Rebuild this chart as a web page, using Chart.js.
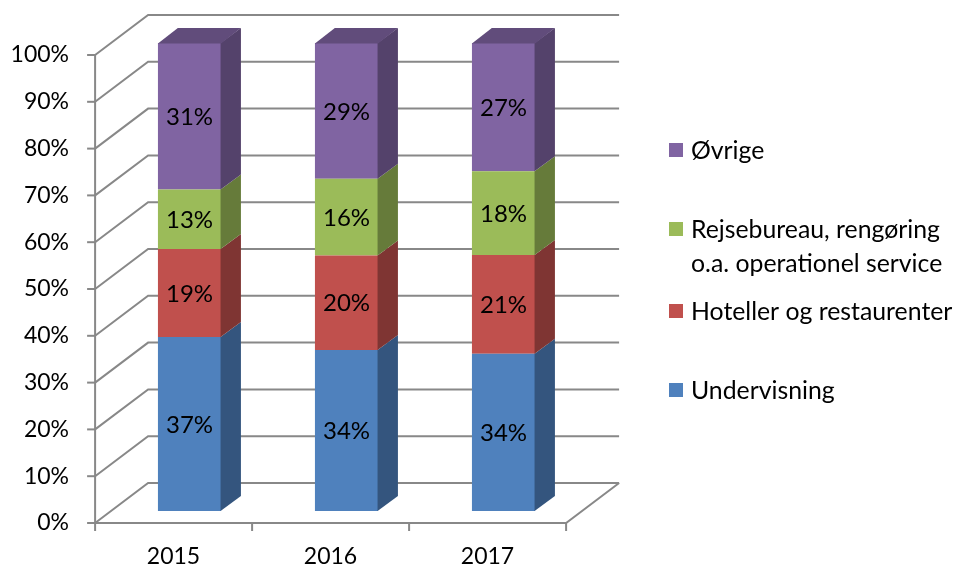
<!DOCTYPE html>
<html>
<head>
<meta charset="utf-8">
<script src="https://cdn.jsdelivr.net/npm/chart.js@4.4.1/dist/chart.umd.min.js"></script>
<style>
  html, body { margin: 0; padding: 0; background: #fff; }
</style>
</head>
<body>
<canvas id="chart" width="955" height="567"></canvas>
<script>
// Data (percent of total per year)
const years = ['2015', '2016', '2017'];
const undervisning = [37.2, 34.4, 33.6];
const hoteller = [18.8, 20.2, 21.1];
const rejsebureau = [12.7, 16.4, 17.9];
const ovrige = [31.3, 29.0, 27.4];
const seriesNames = ['Undervisning', 'Hoteller og restaurenter', ['Rejsebureau, rengøring', 'o.a. operationel service'], 'Øvrige'];
const yTickValues = [0, 10, 20, 30, 40, 50, 60, 70, 80, 90, 100];

const FAMILY = 'Lato, "Open Sans", sans-serif';
const FONT = '24px ' + FAMILY;
const LEGEND_FONT = '24.8px ' + FAMILY;

// Face colours: front, side, top
const palette = [
    { front: '#4F81BD', side: '#34557E', top: '#3C6290' },
    { front: '#C0504D', side: '#7F3533', top: '#923D3A' },
    { front: '#9BBB59', side: '#667B3A', top: '#768E43' },
    { front: '#8064A2', side: '#54426B', top: '#614C7B' }
];

// 3D box geometry: floor depth and where the bars sit inside it
const depth = { dx: 53, dy: 40, barFront: 0.3, barBack: 0.675 };
const gridColor = '#888888';

// Draws the walls, floor, grid lines and axis ticks behind the bars
const wallsPlugin = {
    id: 'walls',
    beforeDatasetsDraw(chart) {
        const { ctx, chartArea } = chart;
        const yScale = chart.scales.y;
        const ox = depth.dx * depth.barFront;
        const oy = depth.dy * depth.barFront;
        const x0 = chartArea.left - ox;
        const x1 = chartArea.right - ox;
        const yFront = v => yScale.getPixelForValue(v) + oy;

        ctx.save();
        ctx.strokeStyle = gridColor;
        ctx.lineWidth = 2;
        ctx.lineCap = 'butt';

        yTickValues.forEach(v => {
            const yf = yFront(v);
            ctx.beginPath();
            ctx.moveTo(x0, yf);
            ctx.lineTo(x0 + depth.dx, yf - depth.dy);
            ctx.lineTo(x1 + depth.dx, yf - depth.dy);
            ctx.stroke();
            // tick mark on the front axis
            ctx.beginPath();
            ctx.moveTo(x0 - 8, yf);
            ctx.lineTo(x0, yf);
            ctx.stroke();
        });

        // front vertical axis
        ctx.beginPath();
        ctx.moveTo(x0, yFront(0));
        ctx.lineTo(x0, yFront(100));
        ctx.stroke();

        // floor front and right edges
        const yf0 = yFront(0);
        ctx.beginPath();
        ctx.moveTo(x0, yf0);
        ctx.lineTo(x1, yf0);
        ctx.lineTo(x1 + depth.dx, yf0 - depth.dy);
        ctx.stroke();

        // category ticks
        const n = years.length;
        for (let i = 0; i <= n; i++) {
            const x = x0 + i * (x1 - x0) / n;
            ctx.beginPath();
            ctx.moveTo(x, yf0);
            ctx.lineTo(x, yf0 + 8);
            ctx.stroke();
        }
        ctx.restore();
    },
    afterDatasetsDraw(chart) {
        const { ctx } = chart;
        const sx = depth.dx * (depth.barBack - depth.barFront);
        const sy = depth.dy * (depth.barBack - depth.barFront);
        const last = chart.data.datasets.length - 1;

        ctx.save();
        chart.data.datasets.forEach((ds, di) => {
            const meta = chart.getDatasetMeta(di);
            const col = palette[di];
            meta.data.forEach(bar => {
                const { x, y, base, width } = bar.getProps(['x', 'y', 'base', 'width'], true);
                const left = x - width / 2;
                const right = x + width / 2;
                // side face
                ctx.fillStyle = col.side;
                ctx.beginPath();
                ctx.moveTo(right - 0.5, y);
                ctx.lineTo(right + sx, y - sy);
                ctx.lineTo(right + sx, base - sy);
                ctx.lineTo(right - 0.5, base);
                ctx.closePath();
                ctx.fill();
                // top face on the last segment
                if (di === last) {
                    ctx.fillStyle = col.top;
                    ctx.beginPath();
                    ctx.moveTo(left, y + 0.5);
                    ctx.lineTo(left + sx, y - sy);
                    ctx.lineTo(right + sx, y - sy);
                    ctx.lineTo(right, y + 0.5);
                    ctx.closePath();
                    ctx.fill();
                }
            });
        });

        // value labels on the front faces
        ctx.fillStyle = '#000';
        ctx.font = FONT;
        ctx.textAlign = 'center';
        ctx.textBaseline = 'middle';
        chart.data.datasets.forEach((ds, di) => {
            const meta = chart.getDatasetMeta(di);
            meta.data.forEach((bar, i) => {
                const { x, y, base } = bar.getProps(['x', 'y', 'base'], true);
                ctx.fillText(Math.round(ds.data[i]) + '%', x, (y + base) / 2 + 1);
            });
        });
        ctx.restore();
    }
};

// Legend drawn by hand so it can keep Excel's reversed order and the wrapped label
const legendPlugin = {
    id: 'sideLegend',
    afterDraw(chart, args, opts) {
        const { ctx } = chart;
        ctx.save();
        ctx.font = LEGEND_FONT;
        ctx.textAlign = 'left';
        ctx.textBaseline = 'middle';
        const order = chart.data.datasets.map((d, i) => i).reverse();
        order.forEach((di, k) => {
            const ds = chart.data.datasets[di];
            const yc = opts.rows[k];
            ctx.fillStyle = ds.backgroundColor;
            ctx.fillRect(opts.x, yc - 7, 14, 14);
            ctx.fillStyle = '#000';
            const lines = Array.isArray(ds.label) ? ds.label : [ds.label];
            lines.forEach((line, li) => {
                ctx.fillText(line, opts.x + 22, yc + 1 + li * 34);
            });
        });
        ctx.restore();
    }
};

const seriesData = [undervisning, hoteller, rejsebureau, ovrige];

new Chart(document.getElementById('chart'), {
    type: 'bar',
    data: {
        labels: years,
        datasets: seriesData.map((values, i) => ({
            label: seriesNames[i],
            data: values,
            backgroundColor: palette[i].front,
            borderWidth: 0,
            categoryPercentage: 1,
            barPercentage: 0.402
        }))
    },
    plugins: [wallsPlugin, legendPlugin],
    options: {
        responsive: false,
        animation: false,
        layout: { padding: { top: 43, right: 373, bottom: 0, left: 0 } },
        scales: {
            x: {
                stacked: true,
                grid: { display: false, drawTicks: false },
                border: { display: false },
                ticks: {
                    color: '#000',
                    font: { family: FAMILY, size: 23 },
                    labelOffset: -16,
                    padding: 32
                },
                afterFit(scale) {
                    scale.height = 56;
                    scale.paddingLeft = 0;
                    scale.paddingRight = 0;
                }
            },
            y: {
                stacked: true,
                min: 0,
                max: 100,
                grid: { display: false, drawTicks: false },
                border: { display: false },
                ticks: {
                    stepSize: 10,
                    color: '#000',
                    font: { family: FAMILY, size: 23 },
                    labelOffset: 12,
                    padding: 42,
                    callback: v => v + '%'
                },
                afterFit(scale) {
                    scale.width = 111;
                    scale.paddingTop = 0;
                    scale.paddingBottom = 0;
                }
            }
        },
        plugins: {
            legend: { display: false },
            tooltip: { enabled: false },
            sideLegend: { x: 669, rows: [150, 229, 311, 390] }
        }
    }
});
</script>
</body>
</html>
